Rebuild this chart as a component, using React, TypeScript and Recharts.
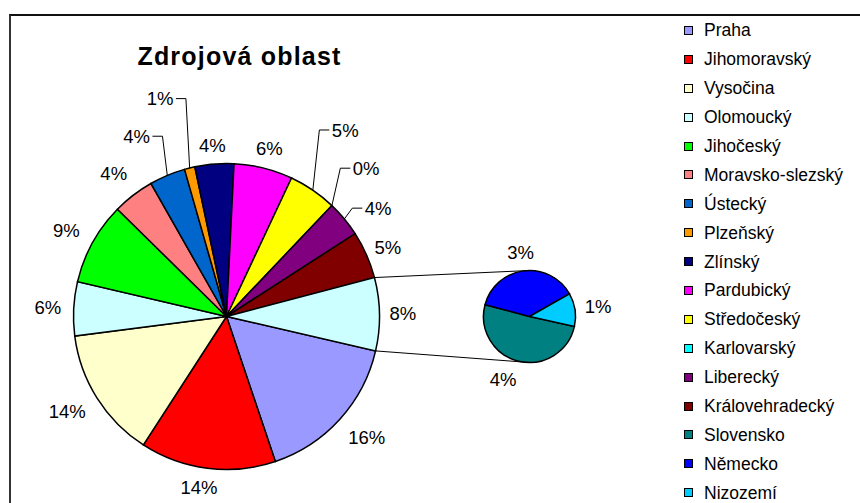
import { Legend, Pie, PieChart } from "recharts";

// region shares in % (main pie, clockwise from the "other" wedge)
const MAIN_NAMES = [
  "Praha",
  "Jihomoravský",
  "Vysočina",
  "Olomoucký",
  "Jihočeský",
  "Moravsko-slezský",
  "Ústecký",
  "Plzeňský",
  "Zlínský",
  "Pardubický",
  "Středočeský",
  "Karlovarský",
  "Liberecký",
  "Královehradecký",
];
const MAIN_VALUES = [16.2, 14.3, 13.8, 5.7, 8.7, 4.4, 3.8, 1.1, 4.1, 6.2, 5.1, 0, 3.8, 5.0];
const MAIN_COLORS = [
  "#9999FF",
  "#FF0000",
  "#FFFFCC",
  "#CCFFFF",
  "#00FF00",
  "#FF8080",
  "#0066CC",
  "#FF9900",
  "#000080",
  "#FF00FF",
  "#FFFF00",
  "#00FFFF",
  "#800080",
  "#800000",
];

// split out into the small pie
const SUB_NAMES = ["Slovensko", "Německo", "Nizozemí"];
const SUB_VALUES = [3.9, 2.9, 0.9];
const SUB_COLORS = ["#008080", "#0000FF", "#00CCFF"];

const OTHER_NAME = "Jiné";
const OTHER_COLOR = "#CCFFFF";

const TITLE = "Zdrojová oblast";

const FONT = "'Liberation Sans', Arial, sans-serif";
const LABEL_FS = 18.5;
const LEGEND_FS = 17.5;

const MAIN_CX = 226.5;
const MAIN_CY = 316.5;
const MAIN_R = 153;
const SUB_CX = 529.5;
const SUB_CY = 316.5;
const SUB_R = 46;

// hand-placed labels, as in the original sheet
const LABEL_PUSH: Record<string, { push?: number; dx?: number; dy?: number }> = {
  Praha: { push: 7.7 },
  Jihomoravský: { dx: -5 },
  Vysočina: { push: 6.7 },
  Olomoucký: { push: 2.4 },
  Jihočeský: { push: 6.4 },
  "Moravsko-slezský": { push: 8.7 },
  Pardubický: { push: 1 },
  Slovensko: { dx: -10 },
};
const LEADERS: Record<string, [number, number]> = {
  Plzeňský: [-29.6, -69.4],
  Ústecký: [-30.7, -39.2],
  Středočeský: [32.4, -60.2],
  Karlovarský: [34.3, -37.4],
  Liberecký: [33.8, -10.8],
};

const otherValue = SUB_VALUES.reduce((a, b) => a + b, 0);
const grandTotal = MAIN_VALUES.reduce((a, b) => a + b, 0) + otherValue;

const mainData = [
  ...MAIN_NAMES.map((name, i) => ({ name, value: MAIN_VALUES[i], fill: MAIN_COLORS[i] })),
  { name: OTHER_NAME, value: otherValue, fill: OTHER_COLOR },
];
const subData = SUB_NAMES.map((name, i) => ({ name, value: SUB_VALUES[i], fill: SUB_COLORS[i] }));

const legendItems = [
  ...MAIN_NAMES.map((name, i) => ({ name, color: MAIN_COLORS[i] })),
  ...SUB_NAMES.map((name, i) => ({ name, color: SUB_COLORS[i] })),
];

const RAD = Math.PI / 180;
const textW = (s: string) => [...s].reduce((w, ch) => w + (ch === "%" ? 0.889 : 0.556) * LABEL_FS, 0);
const polar = (cx: number, cy: number, r: number, a: number) => ({
  x: cx + Math.cos(a * RAD) * r,
  y: cy - Math.sin(a * RAD) * r,
});

function renderLabel(props: any) {
  const { cx, cy, midAngle, outerRadius, value, name, startAngle, endAngle } = props;
  const txt = `${Math.round((value / grandTotal) * 100)}%`;
  const hw = textW(txt) / 2;
  const hh = 9;
  const ux = Math.cos(midAngle * RAD);
  const uy = -Math.sin(midAngle * RAD);
  const parts: any[] = [];
  let lx: number;
  let ly: number;

  if (LEADERS[name]) {
    const [dx, dy] = LEADERS[name];
    const ex = cx + outerRadius * ux;
    const ey = cy + outerRadius * uy;
    lx = ex + dx;
    ly = ey + dy;
    const side = dx > 0 ? 1 : -1;
    const endX = lx - side * (hw + 2.5);
    const elbowX = endX - side * 10;
    parts.push(
      <polyline
        key="leader"
        points={`${ex},${ey} ${elbowX},${ly} ${endX},${ly}`}
        fill="none"
        stroke="#000"
        strokeWidth={1}
      />
    );
  } else {
    const t = LABEL_PUSH[name] || {};
    const d = outerRadius + 10 + (t.push || 0);
    lx = cx + d * ux + ux * hw + (t.dx || 0);
    ly = cy + d * uy + uy * hh + (t.dy || 0);
  }

  if (name === OTHER_NAME) {
    const a = polar(cx, cy, outerRadius, startAngle);
    const b = polar(cx, cy, outerRadius, endAngle);
    const [top, bottom] = a.y < b.y ? [a, b] : [b, a];
    parts.push(
      <line key="c1" x1={top.x} y1={top.y} x2={SUB_CX} y2={SUB_CY - SUB_R} stroke="#000" strokeWidth={1} />,
      <line key="c2" x1={bottom.x} y1={bottom.y} x2={SUB_CX} y2={SUB_CY + SUB_R} stroke="#000" strokeWidth={1} />
    );
  }

  parts.push(
    <text key="t" x={lx} y={ly + 6.6} textAnchor="middle" fontSize={LABEL_FS} fontFamily={FONT} fill="#000">
      {txt}
    </text>
  );
  return <g>{parts}</g>;
}

function LegendBox() {
  return (
    <div style={{ fontFamily: FONT, fontSize: LEGEND_FS, color: "#000" }}>
      {legendItems.map((item) => (
        <div key={item.name} style={{ display: "flex", alignItems: "center", height: 28.9, whiteSpace: "nowrap" }}>
          <span
            style={{
              display: "inline-block",
              width: 7,
              height: 7,
              border: "1px solid #000",
              background: item.color,
              marginRight: 11,
              marginTop: -1,
              flexShrink: 0,
            }}
          />
          <span>{item.name}</span>
        </div>
      ))}
    </div>
  );
}

export default function App() {
  return (
    <div
      style={{
        position: "fixed",
        left: 0,
        top: 0,
        width: 860,
        height: 503,
        overflow: "hidden",
        background: "#fff",
      }}
    >
      <div
        style={{
          position: "absolute",
          left: 9,
          top: 14,
          width: 900,
          height: 600,
          borderTop: "2px solid #111",
          borderLeft: "2px solid #333",
        }}
      />
      <div
        style={{
          position: "absolute",
          left: 0,
          top: 44.2,
          width: 479,
          textAlign: "center",
          fontFamily: FONT,
          fontWeight: "bold",
          fontSize: 25,
          letterSpacing: 1.2,
          lineHeight: "25px",
          color: "#000",
        }}
      >
        {TITLE}
      </div>
      <div style={{ position: "absolute", left: 0, top: 0 }}>
        <PieChart width={860} height={503} margin={{ top: 0, right: 0, bottom: 0, left: 0 }}>
          <Pie
            data={mainData}
            dataKey="value"
            nameKey="name"
            cx={MAIN_CX}
            cy={MAIN_CY}
            outerRadius={MAIN_R}
            startAngle={-13}
            endAngle={-373}
            stroke="#000"
            strokeWidth={1.5}
            label={renderLabel}
            labelLine={false}
            isAnimationActive={false}
          />
          <Pie
            data={subData}
            dataKey="value"
            nameKey="name"
            cx={SUB_CX}
            cy={SUB_CY}
            outerRadius={SUB_R}
            startAngle={-12.5}
            endAngle={-372.5}
            stroke="#000"
            strokeWidth={1.5}
            label={renderLabel}
            labelLine={false}
            isAnimationActive={false}
          />
          <Legend
            layout="vertical"
            align="right"
            verticalAlign="top"
            wrapperStyle={{ left: 684, top: 16.5, width: 176 }}
            content={() => <LegendBox />}
          />
        </PieChart>
      </div>
    </div>
  );
}
